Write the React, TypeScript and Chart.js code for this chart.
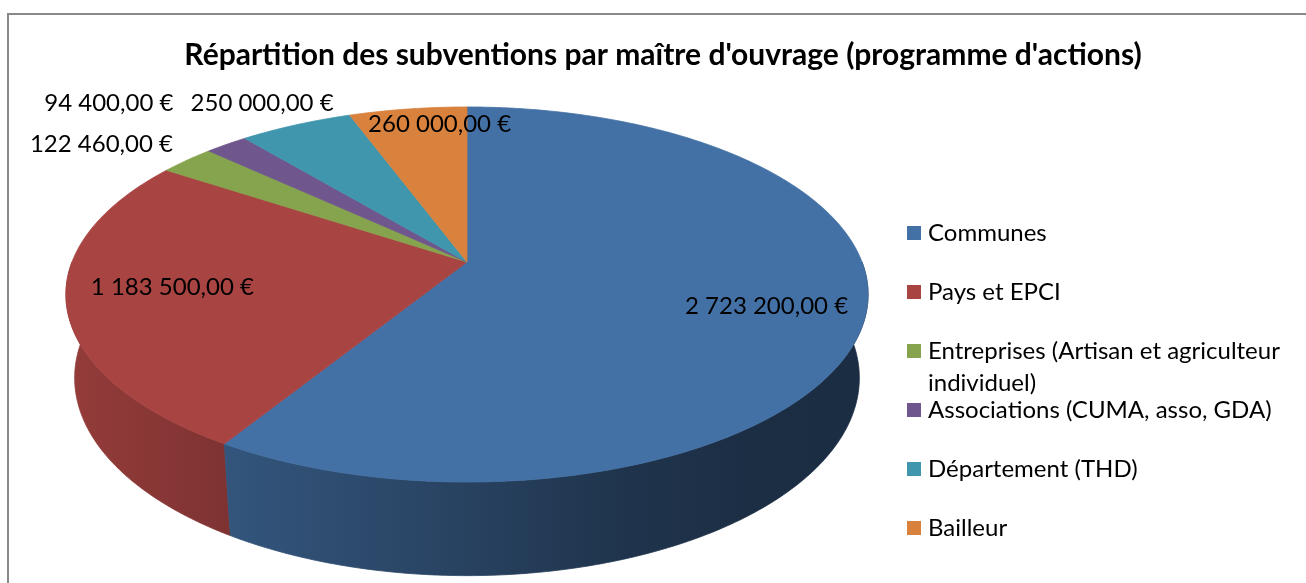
import React, { useEffect, useRef } from 'react';
import { Chart, registerables } from 'chart.js';

Chart.register(...registerables);

// ---------- data ----------
const categories = [
  'Communes',
  'Pays et EPCI',
  'Entreprises (Artisan et agriculteur individuel)',
  'Associations (CUMA, asso, GDA)',
  'Département (THD)',
  'Bailleur',
];
const legendLines = [
  ['Communes'],
  ['Pays et EPCI'],
  ['Entreprises (Artisan et agriculteur', 'individuel)'],
  ['Associations (CUMA, asso, GDA)'],
  ['Département (THD)'],
  ['Bailleur'],
];
const amounts = [2723200, 1183500, 122460, 94400, 250000, 260000];
const sliceColors = ['#4471A5', '#A84442', '#86A34E', '#6F578D', '#4096AD', '#D8823D'];
const titleText = "Répartition des subventions par maître d'ouvrage (programme d'actions)";

// ---------- layout / style ----------
const FONT = "Lato, 'Open Sans', sans-serif";
const GEO = { cx: 467, cy: 262, A: 395, sinA: 0.4605, cosA: 0.8877, k: 0.1952, depth: 0.24 };
// label placement: radial factor from library mid-angle + pixel nudge
const LABEL_PLACE = [
  { rho: 0.75, dx: 4, dy: 6, align: 'center' },
  { rho: 0.75, dx: 3, dy: -5, align: 'center' },
  { rho: 1.1, dx: 11, dy: -7, align: 'right' },
  { rho: 1.1, dx: -32, dy: -31, align: 'right' },
  { rho: 1.1, dx: -19, dy: -10, align: 'center' },
  { rho: 0.85, dx: 24, dy: -5, align: 'center' },
];
const LEGEND = { markX: 907, mark: 14, textX: 928, y0: 233, step: 59, lineH: 32, font: 24 };

function fmtEuro(v: number) {
  const [i, d] = v.toFixed(2).split('.');
  return i.replace(/\B(?=(\d{3})+(?!\d))/g, ' ') + ',' + d + ' €';
}

function proj(theta: number, rho: number, h: number): [number, number] {
  const u = Math.sin(theta) * rho;
  const w = -Math.cos(theta) * rho;
  const xc = u;
  const yc = w * GEO.sinA - h * GEO.cosA;
  const zc = 1 - GEO.k * (w * GEO.cosA + h * GEO.sinA);
  return [GEO.cx + (GEO.A * xc) / zc, GEO.cy + (GEO.A * yc) / zc];
}

function shade(hex: string, f: number) {
  const n = parseInt(hex.slice(1), 16);
  const r = Math.round(((n >> 16) & 255) * f);
  const g = Math.round(((n >> 8) & 255) * f);
  const b = Math.round((n & 255) * f);
  return `rgb(${r},${g},${b})`;
}

const SIDE_STOPS: [number, number][] = [
  [0, 0.88], [0.2, 0.75], [0.42, 0.63], [0.7, 0.46], [0.85, 0.41], [1, 0.4],
];

const pie3d = {
  id: 'pie3d',
  beforeDraw(chart: any) {
    const ctx = chart.ctx;
    ctx.save();
    ctx.strokeStyle = '#898989';
    ctx.lineWidth = 2;
    ctx.beginPath();
    ctx.moveTo(8, 600);
    ctx.lineTo(8, 14);
    ctx.lineTo(1320, 14);
    ctx.stroke();
    ctx.restore();
  },
  beforeDatasetsDraw(chart: any) {
    const ctx = chart.ctx;
    const meta = chart.getDatasetMeta(0);
    const colors = chart.data.datasets[0].backgroundColor as string[];
    const values = chart.data.datasets[0].data as number[];
    const arcs = meta.data.map((a: any) => {
      const p = a.getProps(['startAngle', 'endAngle'], true);
      return { t0: p.startAngle + Math.PI / 2, t1: p.endAngle + Math.PI / 2 };
    });
    const step = Math.PI / 360;
    ctx.save();

    // sides (front half only)
    const sides: { i: number; a: number; b: number }[] = [];
    arcs.forEach((s: any, i: number) => {
      const a = Math.max(s.t0, Math.PI / 2);
      const b = Math.min(s.t1, (3 * Math.PI) / 2);
      if (b > a) sides.push({ i, a, b });
    });
    sides.sort((p, q) => Math.abs((q.a + q.b) / 2 - Math.PI) - Math.abs((p.a + p.b) / 2 - Math.PI));
    const [lx] = proj(3 * Math.PI / 2, 1, 0);
    const [rx] = proj(Math.PI / 2, 1, 0);
    sides.forEach(({ i, a, b }) => {
      const g = ctx.createLinearGradient(lx - 5, 0, rx + 5, 0);
      SIDE_STOPS.forEach(([o, f]) => g.addColorStop(o, shade(colors[i], f)));
      ctx.beginPath();
      const n = Math.max(2, Math.ceil((b - a) / step));
      for (let j = 0; j <= n; j++) {
        const t = a + ((b - a) * j) / n;
        const [x, y] = proj(t, 1, 0);
        if (j === 0) ctx.moveTo(x, y); else ctx.lineTo(x, y);
      }
      for (let j = n; j >= 0; j--) {
        const t = a + ((b - a) * j) / n;
        const [x, y] = proj(t, 1, -GEO.depth);
        ctx.lineTo(x, y);
      }
      ctx.closePath();
      ctx.fillStyle = g;
      ctx.strokeStyle = g;
      ctx.lineWidth = 0.8;
      ctx.fill();
      ctx.stroke();
    });

    // top face
    arcs.forEach((s: any, i: number) => {
      ctx.beginPath();
      const [cx, cy] = proj(0, 0, 0);
      ctx.moveTo(cx, cy);
      const n = Math.max(2, Math.ceil((s.t1 - s.t0) / step));
      for (let j = 0; j <= n; j++) {
        const t = s.t0 + ((s.t1 - s.t0) * j) / n;
        const [x, y] = proj(t, 1, 0);
        ctx.lineTo(x, y);
      }
      ctx.closePath();
      ctx.fillStyle = colors[i];
      ctx.strokeStyle = colors[i];
      ctx.lineWidth = 0.8;
      ctx.fill();
      ctx.stroke();
    });

    // data labels
    ctx.fillStyle = '#000';
    ctx.font = `24px ${FONT}`;
    ctx.textBaseline = 'middle';
    arcs.forEach((s: any, i: number) => {
      const pl = LABEL_PLACE[i];
      const mid = (s.t0 + s.t1) / 2;
      const [x, y] = proj(mid, pl.rho, 0);
      ctx.textAlign = pl.align;
      ctx.fillText(fmtEuro(values[i]), x + pl.dx, y + pl.dy);
    });
    ctx.restore();
    return false;
  },
  afterDraw(chart: any) {
    const ctx = chart.ctx;
    const colors = chart.data.datasets[0].backgroundColor as string[];
    ctx.save();
    ctx.font = `${LEGEND.font}px ${FONT}`;
    ctx.textBaseline = 'middle';
    ctx.textAlign = 'left';
    legendLines.forEach((lines, i) => {
      const y = LEGEND.y0 + LEGEND.step * i;
      ctx.fillStyle = colors[i];
      ctx.fillRect(LEGEND.markX, y - LEGEND.mark / 2, LEGEND.mark, LEGEND.mark);
      ctx.fillStyle = '#000';
      lines.forEach((ln, k) => ctx.fillText(ln, LEGEND.textX, y + k * LEGEND.lineH));
    });
    ctx.restore();
  },
};

export default function App() {
  const ref = useRef<HTMLCanvasElement | null>(null);
  useEffect(() => {
    if (!ref.current) return;
    const chart = new Chart(ref.current, {
      type: 'pie',
      data: {
        labels: categories,
        datasets: [{ data: amounts, backgroundColor: sliceColors, borderWidth: 0 }],
      },
      options: {
        animation: false,
        responsive: true,
        maintainAspectRatio: false,
        layout: { padding: { left: 20, right: 0, top: 0, bottom: 0 } },
        plugins: {
          legend: { display: false },
          tooltip: { enabled: false },
          title: {
            display: true,
            text: titleText,
            color: '#000',
            font: { family: FONT, size: 30, weight: 'bold' },
            padding: { top: 37, bottom: 10 },
          },
        },
      },
      plugins: [pie3d as any],
    });
    return () => chart.destroy();
  }, []);
  return (
    <div style={{ position: 'absolute', left: 0, top: 0, width: 1306, height: 583, background: '#fff' }}>
      <canvas ref={ref} />
    </div>
  );
}
